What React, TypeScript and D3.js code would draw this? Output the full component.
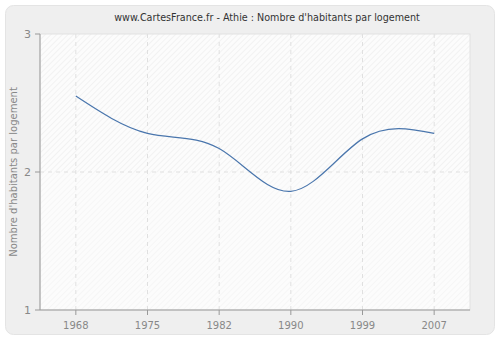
import React from "react";
import * as d3 from "d3";

const years = ["1968", "1975", "1982", "1990", "1999", "2007"];
const values = [2.55, 2.28, 2.17, 1.86, 2.24, 2.28];
const yTicks = [1, 2, 3];
const title = "www.CartesFrance.fr - Athie : Nombre d'habitants par logement";
const yLabel = "Nombre d'habitants par logement";

export default function App() {
  const W = 500, H = 340;
  const left = 40, right = 470, top = 34, bottom = 310;
  const x = d3.scalePoint<string>().domain(years).range([left, right]).padding(0.5);
  const y = d3.scaleLinear().domain([1, 3]).range([bottom, top]);
  const line = d3
    .line<number>()
    .x((_, i) => x(years[i]) as number)
    .y((d) => y(d))
    .curve(d3.curveNatural);
  const font = "DejaVu Sans, Verdana, sans-serif";
  return (
    <svg width={W} height={H} style={{ position: "absolute", left: 0, top: 0 }}>
      <defs>
        <pattern id="hatch" width="4" height="4" patternUnits="userSpaceOnUse" patternTransform="rotate(45)">
          <rect width="4" height="4" fill="#fcfcfc" />
          <line x1="0" y1="0" x2="0" y2="4" stroke="#ececec" strokeWidth="1.2" />
        </pattern>
        <pattern id="hatch2" width="4" height="4" patternUnits="userSpaceOnUse" patternTransform="rotate(45)">
          <rect width="4" height="4" fill="#fcfcfc" />
          <line x1="0" y1="0" x2="0" y2="4" stroke="#f3f3f3" strokeWidth="1.2" />
        </pattern>
      </defs>
      <rect x={5.5} y={5.5} width={489} height={329} rx={8} fill="#efefef" stroke="#e4e4e4" />
      <rect x={left} y={top} width={right - left} height={y(2) - top} fill="url(#hatch)" />
      <rect x={left} y={y(2)} width={right - left} height={bottom - y(2)} fill="url(#hatch2)" />
      <rect x={left} y={top} width={right - left} height={bottom - top} fill="none" stroke="#e2e2e2" />
      {years.map((yr) => (
        <line key={yr} x1={x(yr)} x2={x(yr)} y1={top} y2={bottom} stroke="#e0e0e0" strokeDasharray="4,4" />
      ))}
      <line x1={left} x2={right} y1={y(2)} y2={y(2)} stroke="#e0e0e0" strokeDasharray="4,4" />
      <path d={line(values) || ""} fill="none" stroke="#4a76ad" strokeWidth={1.2} />
      <line x1={left} x2={left} y1={top} y2={bottom} stroke="#999" />
      <line x1={left} x2={right} y1={bottom} y2={bottom} stroke="#999" />
      {yTicks.map((t) => (
        <g key={t}>
          <line x1={left - 5} x2={left} y1={y(t)} y2={y(t)} stroke="#999" />
          <text x={left - 9} y={y(t) + 4} textAnchor="end" fontSize={11} fill="#888" fontFamily={font}>
            {t}
          </text>
        </g>
      ))}
      {years.map((yr) => (
        <g key={yr}>
          <line x1={x(yr)} x2={x(yr)} y1={bottom} y2={bottom + 5} stroke="#999" />
          <text x={x(yr)} y={bottom + 19} textAnchor="middle" fontSize={10} fill="#888" fontFamily={font}>
            {yr}
          </text>
        </g>
      ))}
      <text x={267} y={21} textAnchor="middle" fontSize={9.6} fill="#333" fontFamily={font}>
        {title}
      </text>
      <text
        transform={`translate(17,${(top + bottom) / 2}) rotate(-90)`}
        textAnchor="middle"
        fontSize={10}
        fill="#888"
        fontFamily={font}
      >
        {yLabel}
      </text>
    </svg>
  );
}
